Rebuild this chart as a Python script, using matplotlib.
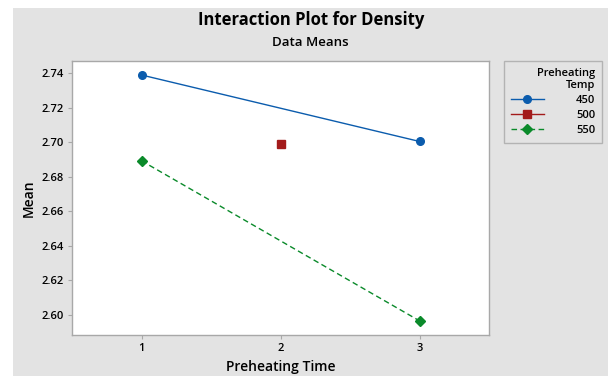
import matplotlib.pyplot as plt
from matplotlib.patches import Rectangle

plt.rcParams['font.family'] = ['Open Sans', 'DejaVu Sans']

# Interaction plot data (data means)
time_450 = [1, 3]
mean_450 = [2.739, 2.7005]
time_500 = [2]
mean_500 = [2.699]
time_550 = [1, 3]
mean_550 = [2.6893, 2.5966]
xticks = [1, 2, 3]
yticks = [2.60, 2.62, 2.64, 2.66, 2.68, 2.70, 2.72, 2.74]

bg = '#e3e3e3'
edge = '#a8a8a8'

fig = plt.figure(figsize=(6.08, 3.76), dpi=100)
fig.patch.set_facecolor('white')
fig.patches.append(Rectangle((13 / 608, 0), 1 - 13 / 608, 1 - 8 / 376,
                             transform=fig.transFigure, facecolor=bg,
                             edgecolor='none', zorder=-10))

ax = fig.add_axes([72 / 608, 41 / 376, 417 / 608, 274 / 376])
ax.set_facecolor('white')

ax.plot(time_450, mean_450, color='#0b5cad', lw=1, marker='o', ms=5.5, label='450')
ax.plot(time_500, mean_500, color='#a31b1b', lw=1, marker='s', ms=5.5, label='500')
ax.plot(time_550, mean_550, color='#0a8a2a', lw=1, ls=(0, (4, 2.5)), marker='D', ms=5,
        label='550')

ax.set_xlim(0.5, 3.5)
ax.set_ylim(2.5884, 2.7471)
ax.set_xticks(xticks)
ax.set_yticks(yticks)
ax.set_yticklabels([f'{v:.2f}' for v in yticks])
ax.tick_params(direction='out', length=3, color=edge, labelsize=8, pad=3)
for lab in ax.get_xticklabels() + ax.get_yticklabels():
    lab.set_fontweight('semibold')
for sp in ax.spines.values():
    sp.set_color(edge)
    sp.set_linewidth(1)

ax.set_xlabel('Preheating Time', fontsize=10, fontweight='semibold', labelpad=4)
ax.set_ylabel('Mean', fontsize=10, fontweight='semibold', labelpad=4)

fig.text(0.511, 1 - 20 / 376, 'Interaction Plot for Density', ha='center', va='center',
         fontsize=12, fontweight='bold')
fig.text(0.511, 1 - 42 / 376, 'Data Means', ha='center', va='center',
         fontsize=9.5, fontweight='semibold')

leg = fig.legend(loc='upper left', bbox_to_anchor=(504 / 608, 1 - 61 / 376),
                 borderaxespad=0, title='Preheating\nTemp', alignment='right',
                 fontsize=8, title_fontsize=8, frameon=True, fancybox=False,
                 handlelength=3.0, handletextpad=2.9, labelspacing=0.35,
                 borderpad=0.6)
leg.get_frame().set_facecolor(bg)
leg.get_frame().set_edgecolor(edge)
leg.get_title().set_multialignment('right')
leg.get_title().set_fontweight('semibold')
for t in leg.get_texts():
    t.set_fontweight('semibold')

fig.savefig('out.png', dpi=100)
